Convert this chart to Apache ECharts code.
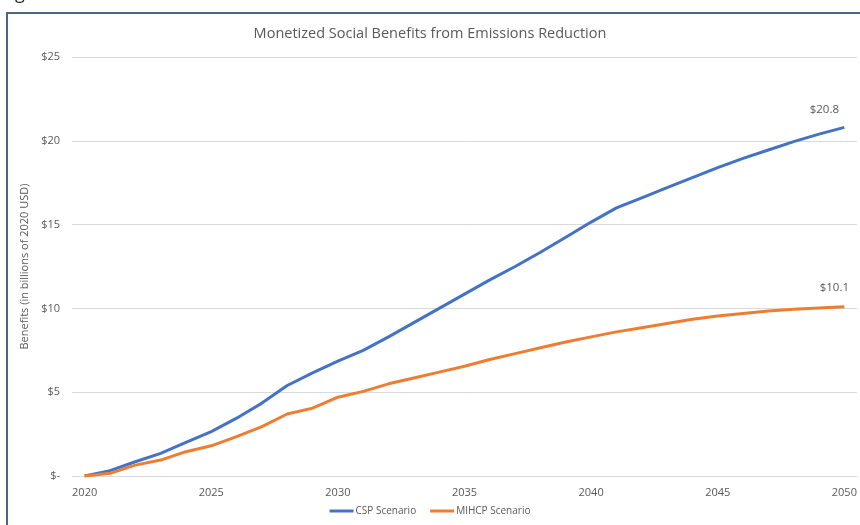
<!DOCTYPE html>
<html>
<head>
<meta charset="utf-8">
<script src="https://cdn.jsdelivr.net/npm/echarts@6/dist/echarts.min.js"></script>
<style>html,body{margin:0;padding:0;background:#fff}#c{width:860px;height:525px}</style>
</head>
<body>
<div id="c"></div>
<script>
const years = [];
for (let y = 2020; y <= 2050; y++) years.push(String(y));
const cspValues = [0, 0.32, 0.85, 1.35, 2.0, 2.65, 3.45, 4.35, 5.4, 6.15, 6.85, 7.5, 8.3, 9.15, 10.0, 10.85, 11.7, 12.5, 13.35, 14.25, 15.15, 16.0, 16.6, 17.2, 17.8, 18.4, 18.95, 19.45, 19.95, 20.4, 20.8];
const mihcpValues = [0, 0.16, 0.65, 0.95, 1.45, 1.8, 2.35, 2.95, 3.7, 4.05, 4.7, 5.05, 5.5, 5.85, 6.2, 6.55, 6.95, 7.3, 7.65, 8.0, 8.3, 8.6, 8.85, 9.1, 9.35, 9.55, 9.7, 9.85, 9.95, 10.03, 10.1];
const seriesNames = ['CSP Scenario', 'MIHCP Scenario'];
const yTickLabels = {0: '$-', 5: '$5', 10: '$10', 15: '$15', 20: '$20', 25: '$25'};

const FONT = 'Open Sans';
const GREY = '#595959';
const chart = echarts.init(document.getElementById('c'), null, {renderer: 'canvas'});

function endLabel(data, offset) {
  return data.map((v, i) => i === data.length - 1 ? {
    value: v,
    label: {show: true, position: 'top', offset: offset, formatter: '$' + v.toFixed(1), color: GREY, fontSize: 11.5, fontFamily: FONT}
  } : v);
}

chart.setOption({
  animation: false,
  backgroundColor: '#fff',
  graphic: [
    {type: 'rect', shape: {x: 7, y: 13, width: 900, height: 600}, style: {fill: 'none', stroke: '#4a6785', lineWidth: 2}, z: 100},
    {type: 'text', left: 15, top: -15, style: {text: 'g', fontSize: 18, fontFamily: FONT, fill: '#222'}}
  ],
  title: {
    text: 'Monetized Social Benefits from Emissions Reduction',
    left: 'center', top: 21,
    textStyle: {fontFamily: FONT, fontSize: 14.5, fontWeight: 'normal', color: GREY}
  },
  legend: {
    data: seriesNames,
    bottom: 4, left: 'center',
    icon: 'rect', itemWidth: 24, itemHeight: 3, itemGap: 14,
    textStyle: {fontFamily: FONT, fontSize: 10, color: GREY, padding: [0, 0, 0, -3]}
  },
  grid: {left: 72, right: 3, top: 57, bottom: 49, containLabel: false},
  xAxis: {
    type: 'category', data: years, boundaryGap: true,
    axisLine: {show: false}, axisTick: {show: false},
    axisLabel: {interval: 4, color: GREY, fontSize: 11, fontFamily: FONT, margin: 11},
    splitLine: {show: false}
  },
  yAxis: {
    type: 'value', min: 0, max: 25, interval: 5,
    name: 'Benefits (in billions of 2020 USD)', nameLocation: 'middle', nameGap: 40,
    nameTextStyle: {color: GREY, fontSize: 11, fontFamily: FONT},
    axisLine: {show: false}, axisTick: {show: false},
    axisLabel: {color: GREY, fontSize: 11, fontFamily: FONT, margin: 12, formatter: v => yTickLabels[v]},
    splitLine: {lineStyle: {color: '#d9d9d9', width: 1}}
  },
  series: [
    {name: seriesNames[0], type: 'line', data: endLabel(cspValues, [-20, -7]), symbol: 'circle', symbolSize: 0, showSymbol: true, lineStyle: {color: '#4472C4', width: 3}, itemStyle: {color: '#4472C4'}},
    {name: seriesNames[1], type: 'line', data: endLabel(mihcpValues, [-10, -8]), symbol: 'circle', symbolSize: 0, showSymbol: true, lineStyle: {color: '#ED7D31', width: 3}, itemStyle: {color: '#ED7D31'}}
  ]
});
</script>
</body>
</html>
